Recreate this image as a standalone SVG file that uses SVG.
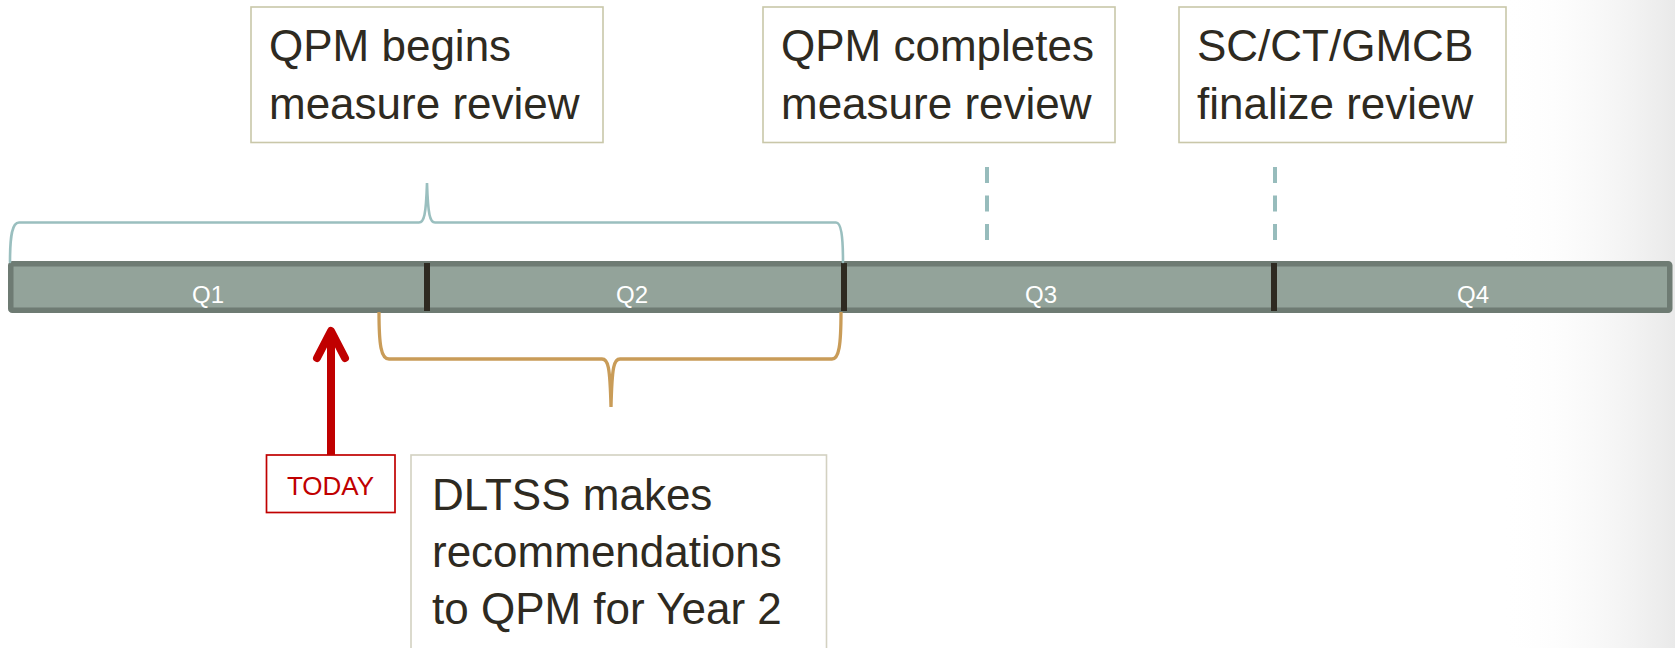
<svg xmlns="http://www.w3.org/2000/svg" width="1675" height="648" viewBox="0 0 1675 648">
  <defs>
    <linearGradient id="vignette" x1="0" y1="0" x2="1" y2="0">
      <stop offset="0" stop-color="#ffffff" stop-opacity="0"/>
      <stop offset="1" stop-color="#e9e9e9" stop-opacity="1"/>
    </linearGradient>
    <style>
      .box { fill: #ffffff; stroke: #c9c7a9; stroke-width: 1.6; }
      .boxlight { fill: #ffffff; stroke: #d3d1c1; stroke-width: 1.6; }
      .big { font-family: "Liberation Sans", Arial, sans-serif; font-size: 44px; fill: #2e2a21; }
      .q { font-family: "Liberation Sans", Arial, sans-serif; font-size: 24px; fill: #ffffff; text-anchor: middle; }
      .div { fill: #2e2a21; }
      .brace-top { fill: none; stroke: #9abfbf; stroke-width: 2.6; stroke-linecap: round; }
      .brace-bot { fill: none; stroke: #c99c58; stroke-width: 3.3; stroke-linecap: butt; }
      .dash { stroke: #97bcbc; stroke-width: 4; stroke-dasharray: 16 12.5; fill: none; }
      .red { stroke: #c00000; fill: none; }
    </style>
  </defs>
  <rect x="0" y="0" width="1675" height="648" fill="#ffffff"/>
  <rect x="1500" y="0" width="175" height="648" fill="url(#vignette)"/>

  <g id="timeline-bar">
    <rect x="10.75" y="263.75" width="1659" height="46.5" rx="1.5" fill="#93a39a" stroke="#6e7b73" stroke-width="5.5"/>
    <rect class="div" x="424" y="263" width="6" height="48"/>
    <rect class="div" x="841" y="263" width="6" height="48"/>
    <rect class="div" x="1271" y="263" width="6" height="48"/>
    <text class="q" x="208" y="303">Q1</text>
    <text class="q" x="632" y="303">Q2</text>
    <text class="q" x="1041" y="303">Q3</text>
    <text class="q" x="1473" y="303">Q4</text>
  </g>

  <g id="node-qpm-begins">
    <rect class="box" x="251" y="7" width="352" height="135.5"/>
    <text class="big" x="269" y="61">QPM begins</text>
    <text class="big" x="269" y="119">measure review</text>
  </g>

  <g id="node-qpm-completes">
    <rect class="box" x="763" y="7" width="352" height="135.5"/>
    <text class="big" x="781" y="61">QPM completes</text>
    <text class="big" x="781" y="119">measure review</text>
  </g>

  <g id="node-finalize">
    <rect class="box" x="1179" y="7" width="327" height="135.5"/>
    <text class="big" x="1197" y="61">SC/CT/GMCB</text>
    <text class="big" x="1197" y="119">finalize review</text>
  </g>

  <g id="node-dltss">
    <rect class="boxlight" x="411" y="455" width="415.5" height="200"/>
    <text class="big" x="432" y="510">DLTSS makes</text>
    <text class="big" x="432" y="567">recommendations</text>
    <text class="big" x="432" y="624">to QPM for Year 2</text>
  </g>

  <g id="node-today">
    <rect x="266.5" y="455" width="128.5" height="57.5" fill="#ffffff" stroke="#c00000" stroke-width="1.7"/>
    <text x="330.5" y="495" font-family="'Liberation Sans', Arial, sans-serif" font-size="26" fill="#c00000" text-anchor="middle">TODAY</text>
  </g>

  <g id="connectors">
    <path class="brace-top" d="M 10 262 C 10 236, 12 222.5, 19 222.5 L 419 222.5 C 424 222.5, 426 215, 427 183 C 428 215, 430 222.5, 435 222.5 L 836 222.5 C 841 222.5, 843 236, 843 262"/>
    <path class="brace-bot" d="M 379 312 C 379 345, 381 359, 389 359 L 602 359 C 608 359, 610 366, 611 407 C 612 366, 614 359, 620 359 L 832 359 C 839 359, 841 345, 841 312"/>
    <line class="dash" x1="987" y1="167" x2="987" y2="240"/>
    <line class="dash" x1="1275" y1="167" x2="1275" y2="240"/>
    <line class="red" x1="331" y1="455" x2="331" y2="334" stroke-width="8"/>
    <polyline class="red" points="317,358 331,331 345,358" stroke-width="8" stroke-linecap="round" stroke-linejoin="round"/>
  </g>
</svg>
